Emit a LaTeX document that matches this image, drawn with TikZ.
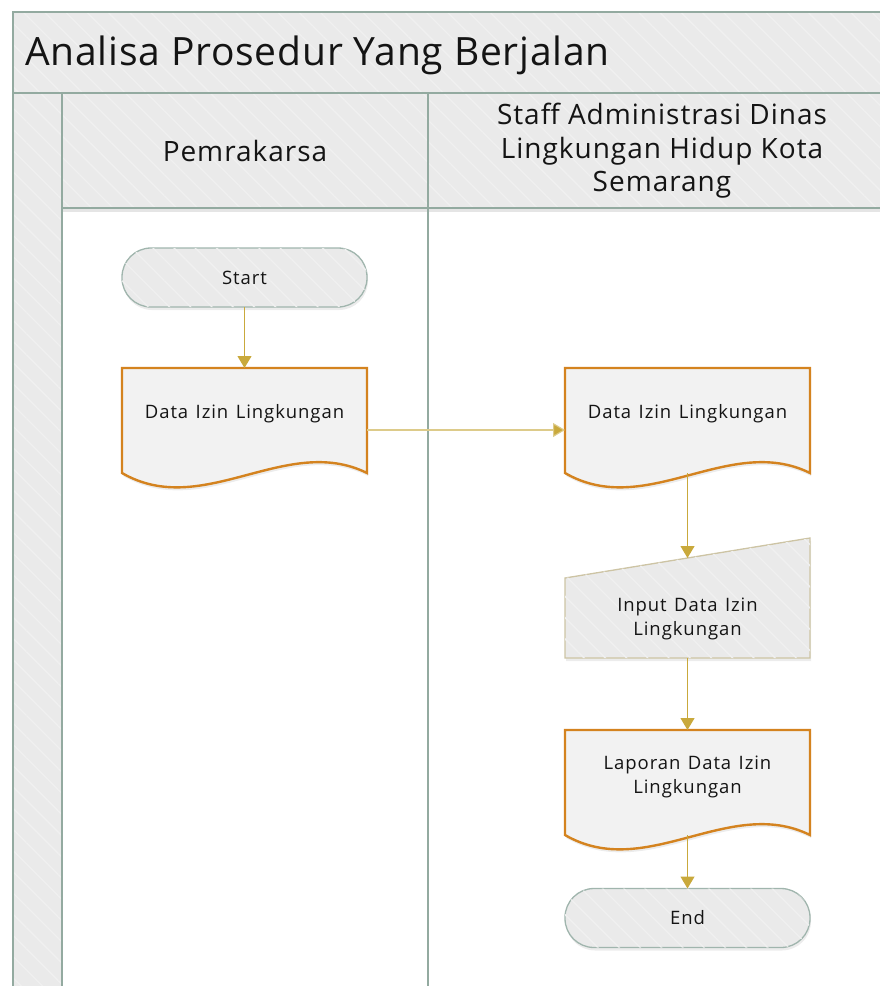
\documentclass[tikz,border=0pt]{standalone}
\usepackage{fontspec}
\setmainfont{Open Sans}
\newfontfamily\nodefont[LetterSpace=5,WordSpace=1.3]{Open Sans}
\newfontfamily\headfont[LetterSpace=3.5]{Open Sans}
\newfontfamily\titlefont[LetterSpace=2]{Open Sans}
\usetikzlibrary{patterns.meta,shadows,arrows.meta,calc}
\definecolor{framec}{HTML}{93AAA0}
\definecolor{bandfill}{HTML}{EAEAEA}
\definecolor{stripe}{HTML}{F0F0F0}
\definecolor{docborder}{HTML}{D4831F}
\definecolor{docfill}{HTML}{F2F2F2}
\definecolor{arrowc}{HTML}{C9A93C}
\definecolor{arrowlight}{HTML}{DDCB8A}
\definecolor{inborder}{HTML}{CDC4A4}
\definecolor{termborder}{HTML}{A0B5AD}
\definecolor{txt}{HTML}{141414}
\newcommand\drawdoc[1]{%
  \draw[docline] (#1.north west) -- (#1.north east) -- ($(#1.south east)+(0,-19)$)
    .. controls ($(#1.south east)+(-81,-59)$) and ($(#1.south west)+(81,28)$) ..
    ($(#1.south west)+(0,-19)$) -- cycle;}
\begin{document}
\begin{tikzpicture}[x=1pt,y=-1pt,
  hatch/.style={fill=bandfill, postaction={pattern={Lines[angle=-45,distance=15pt,line width=1.3pt]}, pattern color=stripe}},
  framel/.style={draw=framec, line width=1.4pt},
  flow/.style={draw=arrowc, line width=1.1pt, -{Triangle[width=14pt,length=12pt]}},
  flowlight/.style={draw=arrowlight, line width=1.1pt, -{Triangle[width=14pt,length=12pt,fill=arrowc]}},
  shapebox/.style={inner sep=0pt, outer sep=0pt, minimum width=245pt},
  term/.style={shapebox, draw=termborder, line width=1.3pt, rounded corners=29pt, minimum height=59pt,
    hatch, drop shadow={opacity=0.15, shadow xshift=1pt, shadow yshift=-3pt},
    font=\nodefont\fontsize{18.5}{22}\selectfont, text=txt},
  docline/.style={draw=docborder, line width=2.4pt, fill=docfill, line join=miter,
    drop shadow={opacity=0.15, shadow xshift=1pt, shadow yshift=-3pt}},
  inline/.style={draw=inborder, line width=1.3pt, hatch,
    drop shadow={opacity=0.15, shadow xshift=1pt, shadow yshift=-3pt}},
  ntext/.style={font=\nodefont\fontsize{18.5}{23.5}\selectfont, text=txt, align=center, inner sep=0pt},
  lanetext/.style={font=\headfont\fontsize{28}{33.5}\selectfont, text=txt, align=center}]
\useasboundingbox (0,0) rectangle (880,986);
\begin{scope}
  \clip (0,0) rectangle (880,986);
  \path[hatch] (13,12) rectangle (900,93);
  \path[hatch] (13,93) rectangle (62,1000);
  \path[hatch] (62,93) rectangle (900,208);
  \draw[black!10, line width=2.5pt] (62,210.5) -- (900,210.5);
  \draw[framel] (900,12) -- (13,12) -- (13,1000);
  \draw[framel] (13,93) -- (900,93);
  \draw[framel] (62,93) -- (62,1000);
  \draw[framel] (428,93) -- (428,1000);
  \draw[framel] (62,208) -- (900,208);
\end{scope}
\node[anchor=base west, font=\titlefont\fontsize{39}{47}\selectfont, text=txt, inner sep=0pt] (title) at (25,65) {Analisa Prosedur Yang Berjalan};
\node[lanetext] (lane1) at (245,151) {Pemrakarsa};
\node[lanetext] (lane2) at (662,151) {Staff Administrasi Dinas\\Lingkungan Hidup Kota\\Semarang};
% Start
\node[term] (start) at (244.5,277.5) {Start};
% Doc 1
\node[shapebox, minimum height=124pt] (d1) at (244.5,430) {};
\drawdoc{d1}
\node[ntext] (d1t) at ($(d1.center)+(0,-16)$) {Data Izin Lingkungan};
% Doc 2
\node[shapebox, minimum height=124pt] (d2) at (687.5,430) {};
\drawdoc{d2}
\node[ntext] (d2t) at ($(d2.center)+(0,-16)$) {Data Izin Lingkungan};
% Manual input
\node[shapebox, minimum height=120pt] (mi) at (687.5,598) {};
\draw[inline] (mi.south west) -- ($(mi.north west)+(0,40)$) -- (mi.north east) -- (mi.south east) -- cycle;
\node[ntext] (mit) at ($(mi.center)+(0,21)$) {Input Data Izin\\Lingkungan};
% Laporan
\node[shapebox, minimum height=124pt] (lap) at (687.5,792) {};
\drawdoc{lap}
\node[ntext] (lapt) at ($(lap.center)+(0,-15)$) {Laporan Data Izin\\Lingkungan};
% End
\node[term] (endn) at (687.5,918) {End};
% connectors
\draw[flow] (start.south) -- (d1.north);
\draw[flowlight] (d1.east) -- (d2.west);
\draw[flow] ($(d2.south)+(0,-19)$) -- ($(mi.north)+(0,20)$);
\draw[flow] (mi.south) -- (lap.north);
\draw[flow] ($(lap.south)+(0,-19)$) -- (endn.north);
\end{tikzpicture}
\end{document}
